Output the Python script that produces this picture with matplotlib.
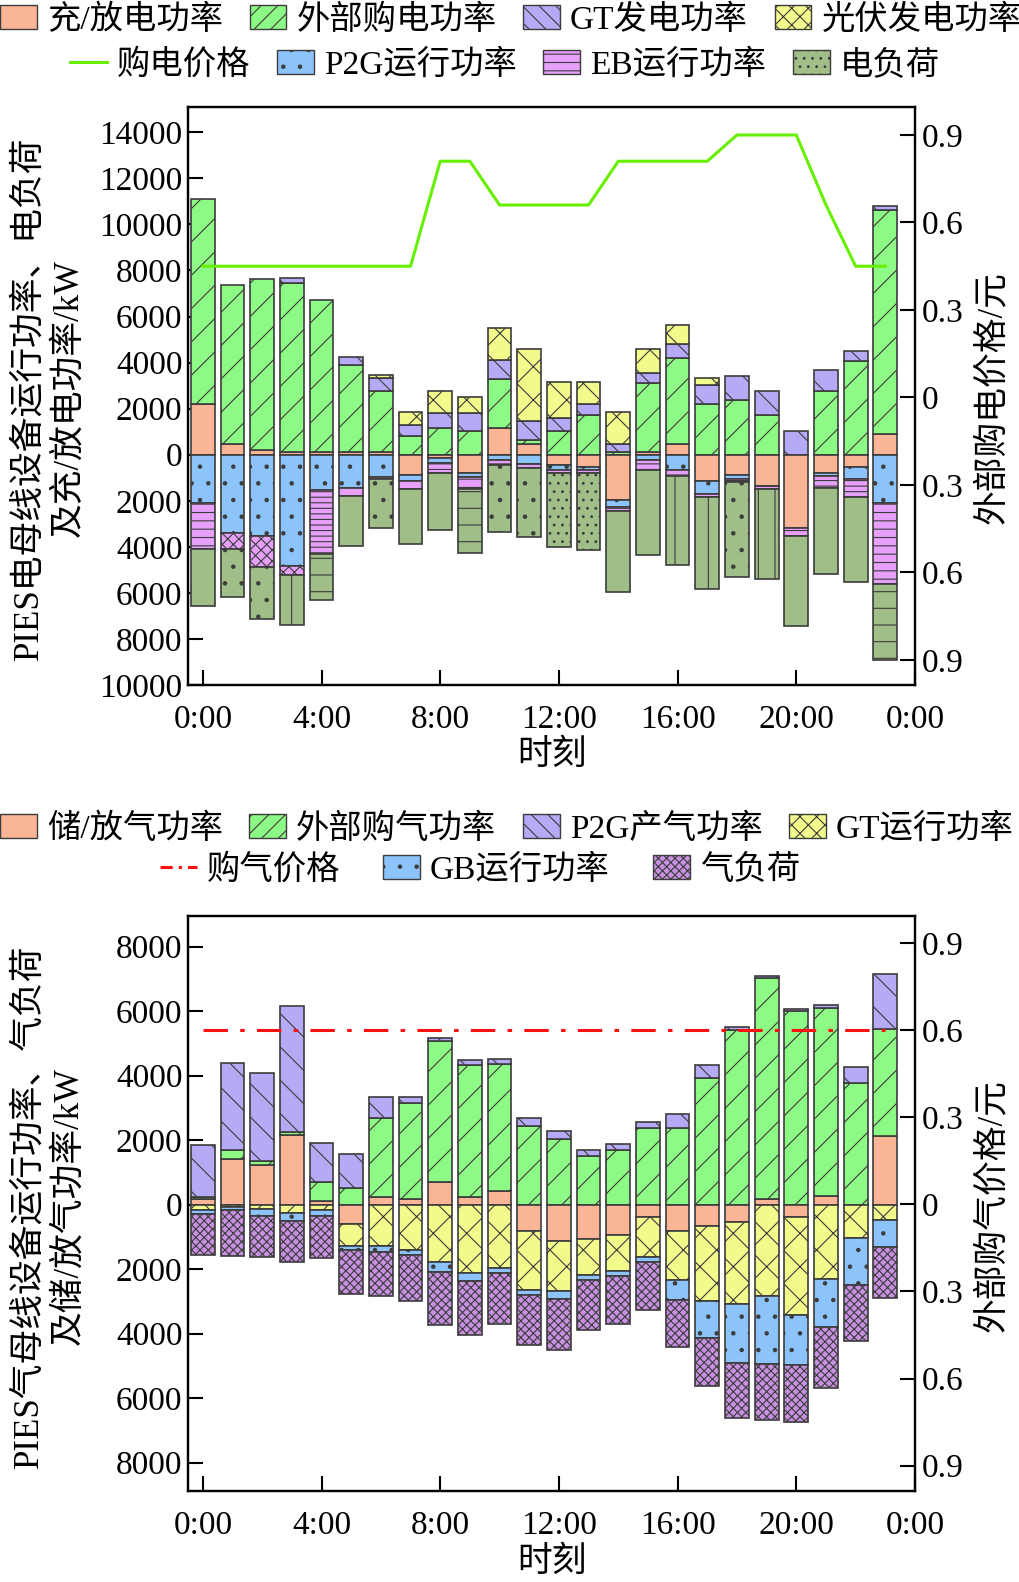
import numpy as np
import matplotlib
matplotlib.use('Agg')
import matplotlib.pyplot as plt
from matplotlib.patches import Patch
from matplotlib.lines import Line2D
from matplotlib.ticker import FuncFormatter, FixedLocator

plt.rcParams['font.family'] = ['Liberation Serif', 'Noto Sans CJK SC']
plt.rcParams['hatch.linewidth'] = 0.8
plt.rcParams['axes.unicode_minus'] = False

# ---------------- data ----------------
hours = np.arange(24)
xtick_labels = ['0:00', '4:00', '8:00', '12:00', '16:00', '20:00', '0:00']

# electric bus (kW); ess: + discharge, - charge
e_ess = [2200, 480, 220, 110, 110, 110, 110, -900, -150, -800, 1160, 480,
         -430, -550, -1960, 110, 480, -1160, -900, -1340, -3190, -800, -550, 900]
e_grid = [8890, 6880, 7430, 7350, 6630, 3800, 2640, 796, 1157, 1043, 2147, 174,
          1043, 1709, 100, 3000, 3722, 2200, 2361, 1709, 0, 2752, 4087, 9739]
e_gt = [0, 0, 0, 200, 0, 317, 566, 508, 652, 766, 796, 826,
        548, 491, 378, 435, 626, 813, 1074, 1043, 1043, 944, 404, 161]
e_pv = [0, 0, 0, 0, 0, 0, 130, 548, 943, 696, 1405, 3114,
        1552, 943, 1374, 1044, 826, 318, 0, 0, 0, 0, 0, 0]
e_p2g = [2100, 3400, 3550, 4850, 1550, 1450, 950, 260, 200, 160, 250, 400,
         220, 100, 320, 250, 650, 550, 140, 0, 0, 140, 490, 2100]
e_eb = [2000, 680, 1340, 390, 2780, 360, 120, 320, 430, 520, 185, 170,
        150, 150, 144, 400, 290, 145, 150, 145, 360, 500, 810, 3500]
e_load = [2480, 2087, 2231, 2145, 1987, 2143, 2130, 2409, 2509, 2770, 2900, 3000,
          3200, 3330, 3552, 3726, 3870, 3986, 4100, 3931, 3883, 3724, 3683, 3313]
e_price = [0.45, 0.45, 0.45, 0.45, 0.45, 0.45, 0.45, 0.45, 0.81, 0.81, 0.66, 0.66,
           0.66, 0.66, 0.81, 0.81, 0.81, 0.81, 0.90, 0.90, 0.90, 0.66, 0.45, 0.45]

# gas bus (kW); ess: + release, - store
g_ess = [180, 1407, 1232, 2164, 120, -600, 250, 177, 714, 227, 435, -808,
         -1118, -1066, -942, -373, -808, -673, -549, 180, -373, 258, 0, 2122]
g_grid = [60, 292, 135, 100, 594, 518, 2431, 2982, 4349, 4112, 3935, 2433,
          2040, 1522, 1699, 2382, 2382, 3923, 5404, 6850, 6004, 5839, 3779, 3335]
g_p2g = [1600, 2690, 2723, 3883, 1202, 1056, 652, 174, 115, 134, 155, 259,
         258, 186, 174, 186, 435, 394, 103, 50, 62, 84, 486, 1708]
g_gt = [165, 80, 135, 259, 165, 674, 1274, 1398, 1792, 2133, 1967, 1842,
        1574, 1118, 1108, 1264, 1531, 2330, 2536, 2826, 3044, 2308, 1035, 476]
g_gb = [125, 100, 207, 238, 177, 134, 207, 155, 289, 249, 155, 156,
        238, 155, 177, 155, 621, 1118, 1813, 2103, 1562, 1481, 1450, 829]
g_load = [1263, 1404, 1273, 1295, 1326, 1367, 1345, 1429, 1646, 1656, 1584, 1543,
          1583, 1543, 1479, 1479, 1450, 1501, 1708, 1758, 1751, 1885, 1739, 1594]
g_price = [0.6] * 24

# ---------------- styles ----------------
C_SAL = '#FAB496'
C_GRN = '#8CFA84'
C_PUR = '#B4AAF5'
C_YEL = '#F3FA8C'
C_BLU = '#8CC3FA'
C_PNK = '#E6A0FA'
C_OLV = '#A0BE87'
C_GLD = '#C890E0'
EDGE = '#3C3C3C'

load_hatch = ['', '.', '.', '|', '-', '', '.', '', '', '-', '.', '.',
              '..', '..', '', '', '|', '|', '.', '|', '', '', '', '-']
eb_hatch = ['--', 'xxx', 'xxx', 'xxx', '---', '', '---', '', '---', '--', '---', '---',
            '---', '---', '---', '---', '---', '---', '---', '---', '---', '---', '---', '--']

W = 0.8
LW = 1.2
TFS = 24   # tick label size
FS = 24    # legend size
LFS = 25   # axis label size


def stack(ax, x, vals, bottom, color, hatch):
    vals = np.asarray(vals, float)
    hatches = hatch if isinstance(hatch, list) else [hatch] * len(vals)
    for xi, v, b, h in zip(x, vals, bottom, hatches):
        if v == 0:
            continue
        ax.bar(xi, v, W, bottom=b, color=color, edgecolor=EDGE, linewidth=LW,
               hatch=h, zorder=2)
    return bottom + vals


def style_axes(ax, ax2, ylim, yticks, ylim2, yticks2):
    ax.set_xlim(-0.5, 24.0)
    ax.set_ylim(*ylim)
    ax.yaxis.set_major_locator(FixedLocator(yticks))
    ax.yaxis.set_major_formatter(FuncFormatter(lambda v, p: f"{abs(v):.0f}"))
    ax.set_xticks([0, 4, 8, 12, 16, 20, 24])
    ax.set_xticklabels(xtick_labels)
    ax.tick_params(axis='y', direction='in', length=11, width=1.5, labelsize=TFS, pad=4,
                   right=False)
    ax.tick_params(axis='x', direction='in', length=11, width=1.5, labelsize=TFS, pad=14,
                   top=False)
    ax2.set_ylim(*ylim2)
    ax2.yaxis.set_major_locator(FixedLocator(yticks2))
    ax2.yaxis.set_major_formatter(
        FuncFormatter(lambda v, p: "0" if abs(v) < 1e-9 else f"{abs(v):.1f}"))
    ax2.tick_params(axis='y', direction='in', length=11, width=1.5, labelsize=TFS, pad=5)
    for a in (ax, ax2):
        for s in a.spines.values():
            s.set_linewidth(1.6)


fig = plt.figure(figsize=(10.2, 15.82), dpi=100)
FW, FH = 1020, 1582

# ---------------- top chart ----------------
ax1 = fig.add_axes([188 / FW, 1 - 685 / FH, 727 / FW, 578 / FH])
pos = np.zeros(24)
neg = np.zeros(24)
ess = np.asarray(e_ess, float)
pos = stack(ax1, hours, np.clip(ess, 0, None), pos, C_SAL, '')
pos = stack(ax1, hours, e_grid, pos, C_GRN, '/')
pos = stack(ax1, hours, e_gt, pos, C_PUR, '\\')
pos = stack(ax1, hours, e_pv, pos, C_YEL, 'x')
neg = stack(ax1, hours, np.clip(ess, None, 0), neg, C_SAL, '')
neg = stack(ax1, hours, -np.asarray(e_p2g, float), neg, C_BLU, '.')
neg = stack(ax1, hours, -np.asarray(e_eb, float), neg, C_PNK, eb_hatch)
neg = stack(ax1, hours, -np.asarray(e_load, float), neg, C_OLV, load_hatch)

ax1r = ax1.twinx()
ax1r.plot(hours, e_price, color='#66F000', linewidth=2.2, zorder=5)
style_axes(ax1, ax1r, (-10000, 15100), np.arange(-10000, 14001, 2000),
           (-0.986, 0.996), [-0.9, -0.6, -0.3, 0, 0.3, 0.6, 0.9])

# ---------------- bottom chart ----------------
ax2 = fig.add_axes([188 / FW, 1 - 1491 / FH, 727 / FW, (1491 - 916) / FH])
pos = np.zeros(24)
neg = np.zeros(24)
gess = np.asarray(g_ess, float)
pos = stack(ax2, hours, np.clip(gess, 0, None), pos, C_SAL, '')
pos = stack(ax2, hours, g_grid, pos, C_GRN, '/')
pos = stack(ax2, hours, g_p2g, pos, C_PUR, '\\')
neg = stack(ax2, hours, np.clip(gess, None, 0), neg, C_SAL, '')
neg = stack(ax2, hours, -np.asarray(g_gt, float), neg, C_YEL, 'x')
neg = stack(ax2, hours, -np.asarray(g_gb, float), neg, C_BLU, '.')
neg = stack(ax2, hours, -np.asarray(g_load, float), neg, C_GLD, 'xxxx')

ax2r = ax2.twinx()
ax2r.plot(hours, g_price, color='#FF1010', linewidth=2.2, linestyle=(0, (8, 4, 1.5, 4)),
          zorder=5)
style_axes(ax2, ax2r, (-8880, 8950), np.arange(-8000, 8001, 2000),
           (-0.987, 0.993), [-0.9, -0.6, -0.3, 0, 0.3, 0.6, 0.9])

# ---------------- labels ----------------
fig.text(49 / FW, 1 - 398 / FH, 'PIES电母线设备运行功率、电负荷\n及充/放电功率/kW',
         rotation=90, ha='center', va='center', fontsize=LFS, linespacing=1.25)
fig.text(993 / FW, 1 - 398 / FH, '外部购电价格/元', rotation=90, ha='center',
         va='center', fontsize=LFS)
fig.text(552 / FW, 1 - 755 / FH, '时刻', ha='center', va='center', fontsize=LFS)

fig.text(49 / FW, 1 - 1206 / FH, 'PIES气母线设备运行功率、气负荷\n及储/放气功率/kW',
         rotation=90, ha='center', va='center', fontsize=LFS, linespacing=1.25)
fig.text(993 / FW, 1 - 1206 / FH, '外部购气价格/元', rotation=90, ha='center',
         va='center', fontsize=LFS)
fig.text(552 / FW, 1 - 1562 / FH, '时刻', ha='center', va='center', fontsize=LFS)


def P(c, h):
    return Patch(facecolor=c, edgecolor=EDGE, hatch=h, linewidth=1.0)


leg_kw = dict(frameon=False, fontsize=FS, handlelength=1.1, handleheight=0.7,
              handletextpad=0.3, borderpad=0, loc='center')

fig.legend([P(C_SAL, ''), P(C_GRN, '//'), P(C_PUR, '\\\\'), P(C_YEL, 'xx')],
           ['充/放电功率', '外部购电功率', 'GT发电功率', '光伏发电功率'], ncol=4,
           columnspacing=0.8, bbox_to_anchor=(511 / FW, 1 - 20 / FH), **leg_kw)
fig.legend([Line2D([], [], color='#66F000', linewidth=2.2), P(C_BLU, '.'),
            P(C_PNK, '--'), P(C_OLV, '..')],
           ['购电价格', 'P2G运行功率', 'EB运行功率', '电负荷'], ncol=4,
           columnspacing=0.8, bbox_to_anchor=(505 / FW, 1 - 65 / FH), **leg_kw)

fig.legend([P(C_SAL, ''), P(C_GRN, '//'), P(C_PUR, '\\\\'), P(C_YEL, 'xx')],
           ['储/放气功率', '外部购气功率', 'P2G产气功率', 'GT运行功率'], ncol=4,
           columnspacing=0.8, bbox_to_anchor=(507 / FW, 1 - 829 / FH), **leg_kw)
fig.legend([Line2D([], [], color='#FF1010', linewidth=2.2, linestyle=(0, (4, 2, 1, 2))),
            P(C_BLU, '.'), P(C_GLD, 'xxxx')],
           ['购气价格', 'GB运行功率', '气负荷'], ncol=3,
           columnspacing=1.3, bbox_to_anchor=(480 / FW, 1 - 870 / FH), **leg_kw)

fig.savefig('out.png', dpi=100)
